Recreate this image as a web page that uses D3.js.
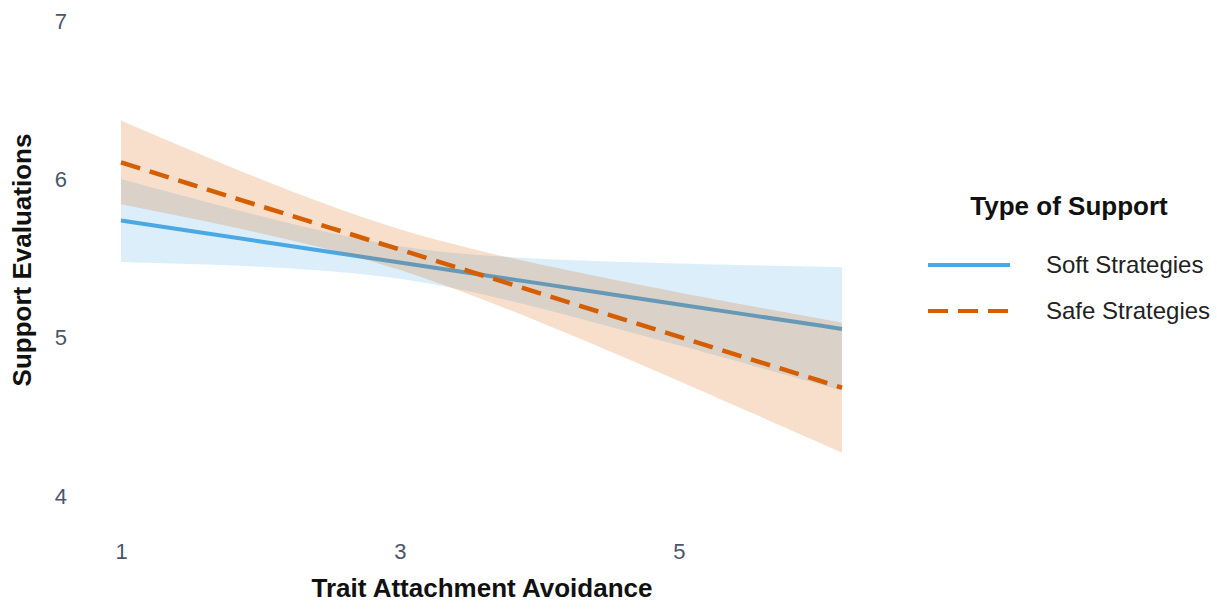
<!DOCTYPE html>
<html>
<head>
<meta charset="utf-8">
<script src="https://cdn.jsdelivr.net/npm/d3@7"></script>
<style>
  body { margin: 0; background: #fff; }
  svg { font-family: "Liberation Sans", Arial, Helvetica, sans-serif; }
</style>
</head>
<body>
<div id="chart"></div>
<script>
// values
const xVals      = [1, 1.5, 2, 2.5, 3, 3.5, 4, 4.5, 5, 5.5, 6, 6.17];
const softFit    = [5.740, 5.674, 5.608, 5.541, 5.475, 5.409, 5.343, 5.276, 5.210, 5.144, 5.078, 5.055];
const softLower  = [5.478, 5.465, 5.448, 5.420, 5.372, 5.291, 5.187, 5.071, 4.952, 4.831, 4.708, 4.665];
const softUpper  = [6.002, 5.883, 5.768, 5.662, 5.578, 5.527, 5.499, 5.481, 5.468, 5.457, 5.448, 5.445];
const safeFit    = [6.107, 5.969, 5.831, 5.694, 5.556, 5.419, 5.281, 5.144, 5.006, 4.868, 4.731, 4.684];
const safeLower  = [5.842, 5.754, 5.660, 5.555, 5.427, 5.273, 5.099, 4.916, 4.726, 4.533, 4.340, 4.274];
const safeUpper  = [6.372, 6.184, 6.002, 5.833, 5.685, 5.565, 5.463, 5.372, 5.286, 5.203, 5.122, 5.094];
const xTicks = [1, 3, 5];
const yTicks = [4, 5, 6, 7];
const seriesNames = ["Soft Strategies", "Safe Strategies"];

const W = 1217, H = 614;
const svg = d3.select("#chart").append("svg")
  .attr("width", W)
  .attr("height", H);

const x = d3.scaleLinear().domain([1, 6.17]).range([121, 842]);
const y = d3.scaleLinear().domain([4, 7]).range([496, 21]);

const colors = { soft: "#4aa8e4", safe: "#d55e00" };

const soft = xVals.map((v, i) => ({ x: v, fit: softFit[i], lo: softLower[i], hi: softUpper[i] }));
const safe = xVals.map((v, i) => ({ x: v, fit: safeFit[i], lo: safeLower[i], hi: safeUpper[i] }));

const area = d3.area()
  .x(d => x(d.x))
  .y0(d => y(d.lo))
  .y1(d => y(d.hi))
  .curve(d3.curveNatural);

const line = d3.line()
  .x(d => x(d.x))
  .y(d => y(d.fit));

// blue ribbon + line, then orange ribbon over it
svg.append("path").datum(soft)
  .attr("d", area)
  .attr("fill", colors.soft)
  .attr("fill-opacity", 0.2);

svg.append("path").datum(soft)
  .attr("d", line)
  .attr("fill", "none")
  .attr("stroke", colors.soft)
  .attr("stroke-width", 4);

svg.append("path").datum(safe)
  .attr("d", area)
  .attr("fill", colors.safe)
  .attr("fill-opacity", 0.2);

svg.append("path").datum(safe)
  .attr("d", line)
  .attr("fill", "none")
  .attr("stroke", colors.safe)
  .attr("stroke-width", 4.5)
  .attr("stroke-dasharray", "20,10");

// axes (labels only, no lines)
const xAxis = svg.append("g")
  .attr("transform", "translate(0,540)")
  .call(d3.axisBottom(x).tickValues(xTicks).tickSize(0).tickFormat(d3.format("d")));
xAxis.select(".domain").remove();
xAxis.selectAll("text")
  .attr("font-size", 22)
  .attr("fill", "#4a566b")
  .attr("font-family", "Liberation Sans, Arial, sans-serif");

const yAxis = svg.append("g")
  .attr("transform", "translate(70,0)")
  .call(d3.axisLeft(y).tickValues(yTicks).tickSize(0).tickFormat(d3.format("d")));
yAxis.select(".domain").remove();
yAxis.selectAll("text")
  .attr("font-size", 22)
  .attr("fill", "#4a566b")
  .attr("font-family", "Liberation Sans, Arial, sans-serif");

svg.append("text")
  .attr("x", 482)
  .attr("y", 597)
  .attr("text-anchor", "middle")
  .attr("font-size", 26)
  .attr("font-weight", "bold")
  .attr("fill", "#111")
  .text("Trait Attachment Avoidance");

svg.append("text")
  .attr("transform", "translate(31,260) rotate(-90)")
  .attr("text-anchor", "middle")
  .attr("font-size", 26)
  .attr("font-weight", "bold")
  .attr("fill", "#111")
  .text("Support Evaluations");

// legend
const legend = svg.append("g").attr("transform", "translate(928,0)");
legend.append("text")
  .attr("x", 141)
  .attr("y", 215)
  .attr("text-anchor", "middle")
  .attr("font-size", 26)
  .attr("font-weight", "bold")
  .attr("fill", "#111")
  .text("Type of Support");

const legendRows = [
  { name: seriesNames[0], color: colors.soft, dash: null, yy: 265 },
  { name: seriesNames[1], color: colors.safe, dash: "20,10", yy: 311 }
];
legendRows.forEach(r => {
  legend.append("line")
    .attr("x1", 0).attr("x2", 82)
    .attr("y1", r.yy).attr("y2", r.yy)
    .attr("stroke", r.color)
    .attr("stroke-width", 4)
    .attr("stroke-dasharray", r.dash);
  legend.append("text")
    .attr("x", 118)
    .attr("y", r.yy + 8)
    .attr("font-size", 24)
    .attr("fill", "#222")
    .text(r.name);
});
</script>
</body>
</html>
